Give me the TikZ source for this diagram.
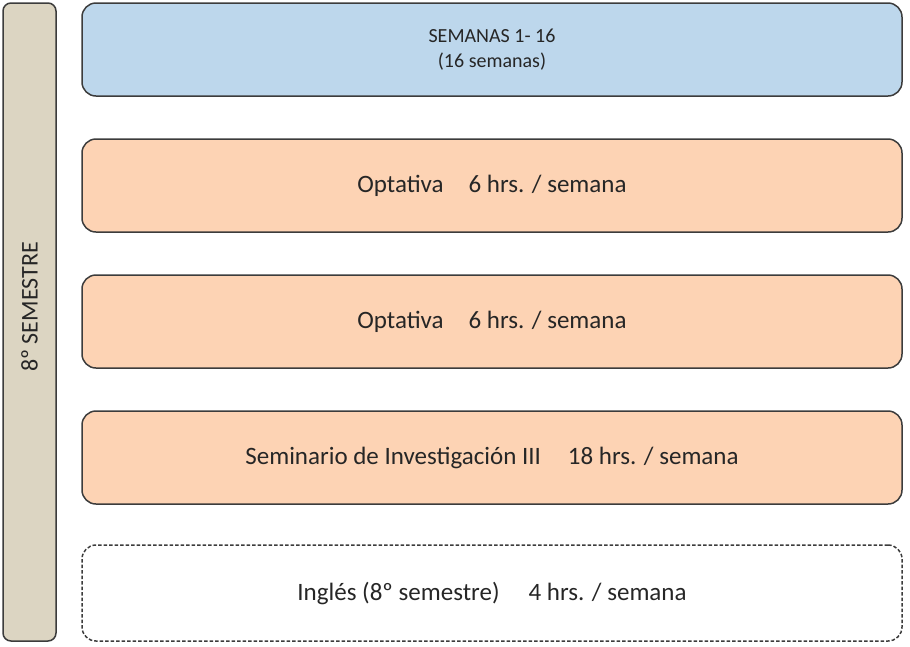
\documentclass[tikz,border=0pt]{standalone}
\usepackage{fontspec}
\setmainfont{Carlito}
\usetikzlibrary{positioning}
\definecolor{semblue}{HTML}{BDD7EC}
\definecolor{optorange}{HTML}{FDD3B4}
\definecolor{sidetan}{HTML}{DCD5C2}
\definecolor{edgegray}{HTML}{3C3C3C}
\begin{document}
\begin{tikzpicture}[x=1pt,y=1pt,
    box/.style={draw=edgegray,line width=1.5pt,rounded corners=14pt,
      minimum width=820pt,minimum height=93pt,inner sep=0pt,
      text=black!85,font=\fontsize{25}{30}\selectfont},
    weeks/.style={box,fill=semblue,align=center,font=\fontsize{20}{24.5}\selectfont},
    course/.style={box,fill=optorange},
    extra/.style={box,dash pattern=on 3.5pt off 2pt,minimum height=96pt},
    semester/.style={draw=edgegray,line width=1.5pt,rounded corners=8pt,
      fill=sidetan,minimum width=53pt,minimum height=638pt,inner sep=0pt},
    node distance=41.5pt
  ]
\useasboundingbox (0,0) rectangle (910,-646);
\node[semester] (sem) at (29.5,-322) {};
\node[rotate=90,text=black!85,font=\fontsize{24}{28}\selectfont] (semlabel) at (29.5,-307) {8º SEMESTRE};

\node[weeks] (wk) at (492,-49.5) {SEMANAS 1- 16\\(16 semanas)};
\node[course,below=of wk] (opt1) {Optativa\hspace{25pt}6 hrs. / semana};
\node[course,below=of opt1] (opt2) {Optativa\hspace{25pt}6 hrs. / semana};
\node[course,below=of opt2] (sem3) {Seminario de Investigación III\hspace{27pt}18 hrs. / semana};
\node[extra,below=39.5pt of sem3] (eng) {Inglés (8º semestre)\hspace{29pt}4 hrs. / semana};

\end{tikzpicture}
\end{document}
